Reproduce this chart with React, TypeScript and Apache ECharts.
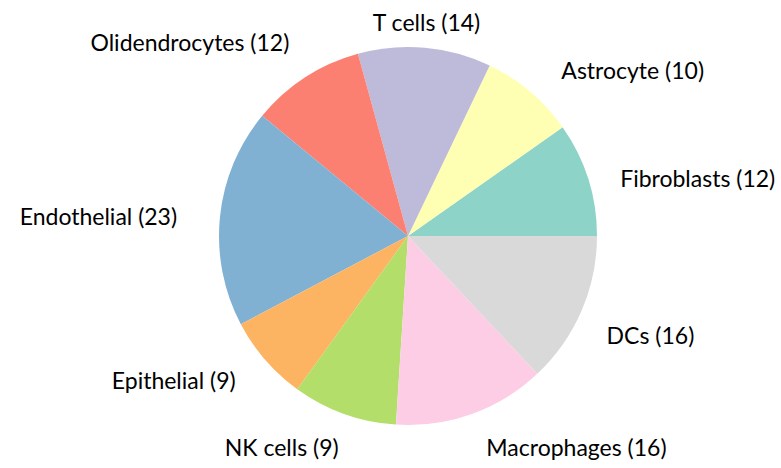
import React, { useEffect, useRef } from "react";
import * as echarts from "echarts";

const labels = ["Fibroblasts (12)", "Astrocyte (10)", "T cells (14)", "Olidendrocytes (12)", "Endothelial (23)", "Epithelial (9)", "NK cells (9)", "Macrophages (16)", "DCs (16)"];
const sliceValues = [12, 10, 14, 12, 23, 9, 11, 16, 16];
const colors = ["#8dd3c7", "#ffffb3", "#bebada", "#fb8072", "#80b1d3", "#fdb462", "#b3de69", "#fccde5", "#d9d9d9"];
// small nudges of each label away from the library's default outside position
const labelNudges: [number, number][] = [
  [11, 6], [17, -5], [-54, -4], [-4, -17], [-21, 2], [-13, 6], [2, 12], [7, 12], [5, 15],
];

export default function App() {
  const ref = useRef<HTMLDivElement>(null);
  useEffect(() => {
    if (!ref.current) return;
    const chart = echarts.init(ref.current, null, { renderer: "svg" });
    chart.setOption({
      animation: false,
      backgroundColor: "#ffffff",
      series: [
        {
          type: "pie",
          center: [408, 236],
          radius: 189,
          startAngle: 0,
          clockwise: false,
          avoidLabelOverlap: false,
          itemStyle: { borderWidth: 0 },
          label: {
            show: true,
            position: "outside",
            formatter: (p: any) => p.name,
            fontFamily: "Lato",
            fontSize: 23,
            color: "#000000",
            distanceToLabelLine: 0,
          },
          labelLine: { show: false, length: 22, length2: 0 },
          labelLayout: (params: any) => ({
            dx: labelNudges[params.dataIndex][0],
            dy: labelNudges[params.dataIndex][1],
          }),
          data: labels.map((c, i) => ({
            name: c,
            value: sliceValues[i],
            itemStyle: { color: colors[i] },
          })),
        },
      ],
    });
    return () => chart.dispose();
  }, []);
  return <div ref={ref} style={{ position: "fixed", left: 0, top: 0, width: 781, height: 468 }} />;
}
